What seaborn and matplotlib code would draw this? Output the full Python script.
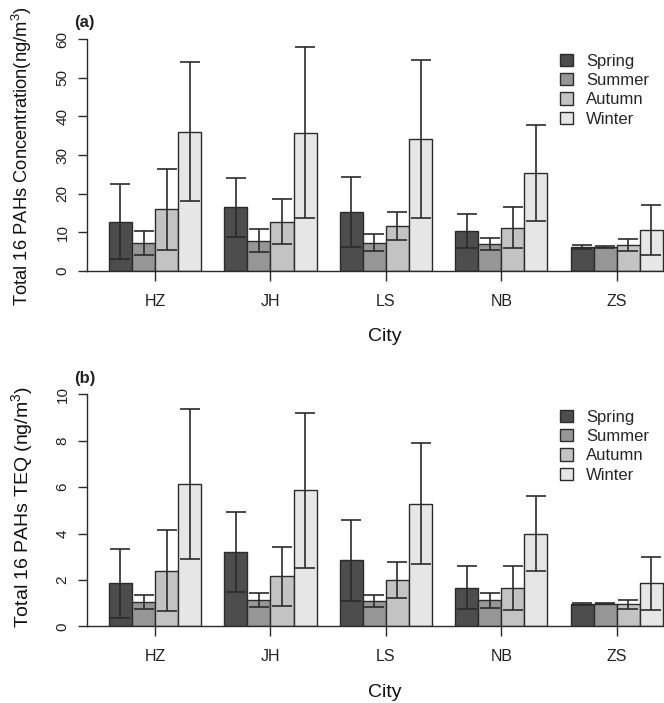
import numpy as np
import pandas as pd
import seaborn as sns
import matplotlib.pyplot as plt
from matplotlib.patches import Patch

sns.set_style("white")
plt.rcParams['font.family'] = ['Liberation Sans', 'DejaVu Sans']
plt.rcParams['mathtext.fontset'] = 'custom'
plt.rcParams['mathtext.rm'] = 'Liberation Sans'
plt.rcParams['mathtext.it'] = 'Liberation Sans'

cities = ["HZ", "JH", "LS", "NB", "ZS"]
seasons = ["Spring", "Summer", "Autumn", "Winter"]
colors = {"Spring": "#4d4d4d", "Summer": "#969696", "Autumn": "#c3c3c3", "Winter": "#e6e6e6"}
line_col = "#2b2b2b"

# (a) total 16 PAHs concentration, mean and sd per season (values per city)
conc_mean = {
    "Spring": [12.8, 16.5, 15.2, 10.3, 6.2],
    "Summer": [7.2, 7.8, 7.3, 7.0, 6.2],
    "Autumn": [16.0, 12.8, 11.7, 11.2, 6.8],
    "Winter": [36.0, 35.8, 34.1, 25.4, 10.6],
}
conc_sd = {
    "Spring": [9.8, 7.6, 9.0, 4.4, 0.5],
    "Summer": [3.1, 3.0, 2.2, 1.6, 0.2],
    "Autumn": [10.5, 5.7, 3.6, 5.3, 1.6],
    "Winter": [18.0, 22.2, 20.5, 12.4, 6.5],
}
# (b) total 16 PAHs TEQ
teq_mean = {
    "Spring": [1.85, 3.20, 2.84, 1.67, 0.96],
    "Summer": [1.05, 1.12, 1.08, 1.12, 0.97],
    "Autumn": [2.40, 2.16, 2.00, 1.64, 0.95],
    "Winter": [6.13, 5.86, 5.29, 3.99, 1.85],
}
teq_sd = {
    "Spring": [1.48, 1.71, 1.74, 0.92, 0.03],
    "Summer": [0.29, 0.30, 0.26, 0.33, 0.02],
    "Autumn": [1.74, 1.27, 0.79, 0.95, 0.19],
    "Winter": [3.25, 3.35, 2.60, 1.62, 1.15],
}


def to_frame(means, sds):
    rows = []
    for s in seasons:
        for c, m, e in zip(cities, means[s], sds[s]):
            rows.append({"City": c, "Season": s, "value": m, "sd": e})
    return pd.DataFrame(rows)


fig = plt.figure(figsize=(6.64, 7.03), dpi=100)

panels = [
    (to_frame(conc_mean, conc_sd), 0.6145, 60, 63, range(0, 61, 10),
     "Total 16 PAHs Concentration(ng/m$^3$)", 13.2, 0.472, "(a)", 23),
    (to_frame(teq_mean, teq_sd), 0.1091, 10, 10.5, range(0, 11, 2),
     "Total 16 PAHs TEQ (ng/m$^3$)", 14, 0.49, "(b)", 379),
]

for df, bottom, ymax, ytop, yticks, ylab, ylab_fs, ylab_y, tag, tag_y in panels:
    ax = fig.add_axes([87 / 664, bottom, 577 / 664, 0.3465])
    sns.barplot(df, x="City", y="value", hue="Season", order=cities, hue_order=seasons,
                palette=colors, width=0.8, gap=0, errorbar=None, edgecolor=line_col,
                linewidth=1.0, saturation=1, legend=False, ax=ax)
    # error bars (mean +/- sd) at the bar centres seaborn placed
    for s, cont in zip(seasons, ax.containers):
        sub = df[df["Season"] == s].set_index("City").loc[cities]
        xs = [b.get_x() + b.get_width() / 2 for b in cont]
        ax.errorbar(xs, sub["value"], yerr=sub["sd"], fmt="none", ecolor=line_col,
                    elinewidth=1.2, capsize=6.9, capthick=1.2, zorder=5)
    ax.set_xlim(-0.59, 4.41)
    ax.set_ylim(0, ytop)
    ax.set_yticks(list(yticks))
    for side in ["top", "right"]:
        ax.spines[side].set_visible(False)
    ax.spines["left"].set_bounds(0, ymax)
    for side in ["left", "bottom"]:
        ax.spines[side].set_color(line_col)
        ax.spines[side].set_linewidth(1.0)
    ax.tick_params(axis="x", direction="out", length=7.2, width=1.0, color=line_col,
                   pad=9, labelsize=11.5, labelcolor="#222222", bottom=True)
    ax.tick_params(axis="y", direction="out", length=6.5, width=1.0, color=line_col,
                   pad=6, labelsize=11, labelcolor="#222222", left=True)
    for lbl in ax.get_yticklabels():
        lbl.set_rotation(90)
        lbl.set_va("center")
    ax.set_xlabel("City", fontsize=14, color="#111111")
    ax.xaxis.set_label_coords(0.516, -0.27)
    ax.xaxis.label.set_va("center")
    ax.set_ylabel(ylab, fontsize=ylab_fs, color="#111111")
    ax.yaxis.set_label_coords(-0.113, ylab_y)
    ax.yaxis.label.set_va("center")

    handles = [Patch(facecolor=colors[s], edgecolor=line_col, linewidth=1.0, label=s) for s in seasons]
    ax.legend(handles=handles, loc="upper left", frameon=False, fontsize=12,
              bbox_to_anchor=(560 / 664, 1 - (tag_y + 31) / 703), bbox_transform=fig.transFigure,
              borderpad=0, borderaxespad=0, handlelength=0.75, handleheight=0.75,
              handletextpad=0.8, labelspacing=0.25)
    fig.text(84.5 / 664, 1 - tag_y / 703, tag, fontsize=12, fontweight="bold",
             ha="center", va="center", color="#222222")

fig.savefig("out.png", dpi=100)
